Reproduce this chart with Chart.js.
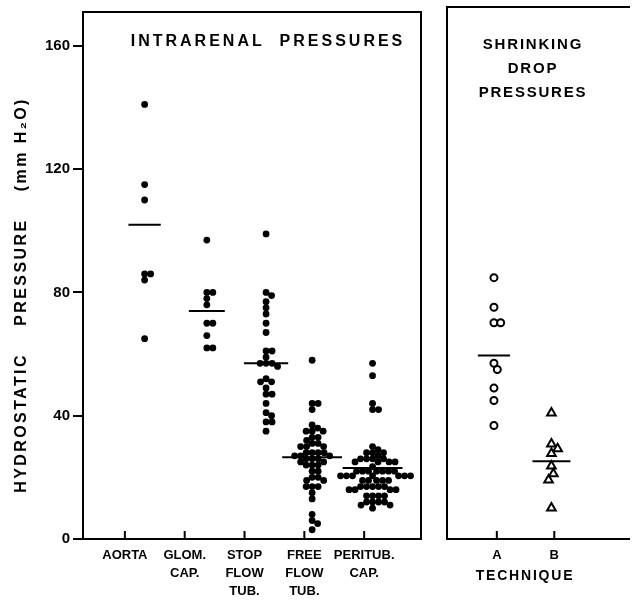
<!DOCTYPE html>
<html>
<head>
<meta charset="utf-8">
<script src="https://cdn.jsdelivr.net/npm/chart.js@4.4.1/dist/chart.umd.min.js"></script>
<style>
  html, body { margin: 0; padding: 0; background: #fff; }
  #wrap { position: relative; width: 636px; height: 605px; overflow: hidden; background: #fff; }
  #left { position: absolute; left: 0; top: 0; width: 440px; height: 605px; }
  #right { position: absolute; left: 440px; top: 0; width: 196px; height: 605px; }
</style>
</head>
<body>
<div id="wrap">
  <div id="left"><canvas id="c1"></canvas></div>
  <div id="right"><canvas id="c2"></canvas></div>
</div>
<script>
// ---------------- DATA ----------------
const yTicks = [0, 40, 80, 120, 160];
const intraCategories = [['AORTA'], ['GLOM.', 'CAP.'], ['STOP', 'FLOW', 'TUB.'], ['FREE', 'FLOW', 'TUB.'], ['PERITUB.', 'CAP.']];
const techCategories = ['A', 'B'];

const aorta = [141, 115, 110, 86, 86, 84, 65];
const glomCap = [97, 80, 80, 78, 76, 70, 70, 66, 62, 62];
const stopFlowTub = [99, 80, 79, 77, 75, 73, 70, 67, 61, 61, 59, 57, 57, 57, 56, 52, 51, 51, 49, 47, 47, 44, 41, 40, 38, 38, 35];
const freeFlowTub = [58, 44, 44, 42, 37, 36, 35, 35, 35, 33, 33, 32, 31, 31, 30, 30, 30, 28, 28, 28, 28, 27, 27, 27,
  26, 26, 26, 25, 25, 24, 24, 24, 22, 22, 20, 20, 19, 19, 17, 17, 17, 15, 13, 8, 6, 5, 3];
const peritubCap = [57, 53, 44, 42, 42, 30, 29, 28, 28, 28, 27, 26, 26, 26, 26, 25, 25, 25, 25, 23.5,
  22, 22, 22, 22, 22, 22, 22, 20.5, 20.5, 20.5, 20.5, 20.5, 20.5, 20.5, 19, 19, 19, 19, 19,
  17, 17, 17, 17, 17, 16, 16, 16, 16, 14, 14, 14, 14, 12, 12, 12, 12, 11, 11, 10];
const intraMeans = [102, 74, 57, 26.5, 23];

const techniqueA = [84, 74.5, 69.5, 69.5, 56.5, 54.5, 48.5, 44.5, 36.5];
const techniqueB = [40.5, 30.5, 29, 27.5, 23.5, 21, 19, 10];
const techMeans = [59, 25];

// ---------------- LAYOUT (not data) ----------------
const FONT = '"Liberation Sans", Arial, sans-serif';
const Y_MAX = 171;
const L_XMIN = 0.3, L_XMAX = 5.95, L_PX = 338, PLOT_PY = 534;
const R_XMIN = 0.133, R_XMAX = 3.3, R_PX = 190;
const intraShift = [0.33, 0.37, 0.36, 0.13, 0.14];
const intraHalf = [0.27, 0.3, 0.37, 0.5, 0.5];
const techShift = [-0.05, -0.05];
const techHalf = [0.28, 0.33];

// simple beeswarm: returns points with x offsets (in data units)
function swarm(values, center, pxPerX, pxPerY, dist) {
  const placed = [];
  const order = values.map((v, i) => i).sort((a, b) => values[b] - values[a]);
  const out = new Array(values.length);
  order.forEach(i => {
    const py = values[i] * pxPerY;
    let chosen = 0;
    for (let k = 0; k < 200; k++) {
      const cands = k === 0 ? [0] : [k * 0.5, -k * 0.5];
      let ok = null;
      for (const off of cands) {
        if (placed.every(p => Math.hypot(p.x - off, p.y - py) >= dist)) { ok = off; break; }
      }
      if (ok !== null) { chosen = ok; break; }
    }
    placed.push({ x: chosen, y: py });
    out[i] = { x: center + chosen / pxPerX, y: values[i] };
  });
  return out;
}

const pxXL = L_PX / (L_XMAX - L_XMIN);
const pxXR = R_PX / (R_XMAX - R_XMIN);
const pxY = PLOT_PY / Y_MAX;

const intraSeries = [aorta, glomCap, stopFlowTub, freeFlowTub, peritubCap];
const leftDatasets = [];
intraSeries.forEach((vals, i) => {
  leftDatasets.push({
    type: 'scatter',
    data: swarm(vals, i + 1 + intraShift[i], pxXL, pxY, 5.9),
    pointRadius: 3.4, pointHoverRadius: 3.4,
    backgroundColor: '#000', borderColor: '#000', borderWidth: 0, pointStyle: 'circle'
  });
});
intraMeans.forEach((m, i) => {
  const c = i + 1 + intraShift[i];
  leftDatasets.push({
    type: 'line', data: [{ x: c - intraHalf[i], y: m }, { x: c + intraHalf[i], y: m }],
    borderColor: '#000', borderWidth: 2, pointRadius: 0, showLine: true, fill: false
  });
});

const rightDatasets = [
  { type: 'scatter', data: swarm(techniqueA, 1 + techShift[0], pxXR, pxY, 7), pointStyle: 'circle',
    pointRadius: 3.5, backgroundColor: '#fff', borderColor: '#000', borderWidth: 2 },
  { type: 'scatter', data: swarm(techniqueB, 2 + techShift[1], pxXR, pxY, 8), pointStyle: 'triangle',
    pointRadius: 5, backgroundColor: '#fff', borderColor: '#000', borderWidth: 2 }
];
techMeans.forEach((m, i) => {
  const c = i + 1 + techShift[i];
  rightDatasets.push({
    type: 'line', data: [{ x: c - techHalf[i], y: m }, { x: c + techHalf[i], y: m }],
    borderColor: '#000', borderWidth: 2, pointRadius: 0, showLine: true, fill: false
  });
});

// ---------------- PLUGINS ----------------
const framePlugin = {
  id: 'frame',
  afterDatasetsDraw(chart, args, opts) {
    const { ctx, chartArea: a } = chart;
    ctx.save();
    ctx.strokeStyle = '#000';
    ctx.lineWidth = 2;
    ctx.lineCap = 'square';
    ctx.beginPath();
    if (opts.left) { ctx.moveTo(a.left, a.top); ctx.lineTo(a.left, a.bottom); }
    if (opts.top) { ctx.moveTo(a.left, a.top); ctx.lineTo(a.right, a.top); }
    if (opts.right) { ctx.moveTo(a.right, a.top); ctx.lineTo(a.right, a.bottom); }
    if (opts.bottom) { ctx.moveTo(a.left, a.bottom); ctx.lineTo(a.right, a.bottom); }
    ctx.stroke();
    const xs = chart.scales.x;
    ctx.beginPath();
    xs.ticks.forEach(t => {
      const px = xs.getPixelForValue(t.value);
      ctx.moveTo(px, a.bottom);
      ctx.lineTo(px, a.bottom - 7);
    });
    ctx.stroke();
    ctx.restore();
  }
};

const textPlugin = {
  id: 'texts',
  afterDraw(chart, args, opts) {
    const ctx = chart.ctx;
    (opts.items || []).forEach(it => {
      ctx.save();
      ctx.fillStyle = '#000';
      ctx.font = 'bold ' + it.size + 'px ' + FONT;
      ctx.letterSpacing = (it.spacing || 0) + 'px';
      ctx.textAlign = 'center';
      ctx.textBaseline = 'middle';
      ctx.translate(it.x, it.y);
      if (it.rotate) ctx.rotate(it.rotate);
      ctx.fillText(it.text, 0, 0);
      ctx.restore();
    });
  }
};

Chart.register(framePlugin, textPlugin);

const commonY = {
  min: 0, max: Y_MAX,
  afterBuildTicks: s => { s.ticks = yTicks.map(v => ({ value: v })); }
};

new Chart(document.getElementById('c1'), {
  type: 'scatter',
  data: { datasets: leftDatasets },
  options: {
    responsive: true, maintainAspectRatio: false, animation: false,
    layout: { padding: { left: 0, right: 19, top: 5, bottom: 0 } },
    plugins: {
      legend: { display: false }, tooltip: { enabled: false },
      frame: { left: true, top: true, right: true, bottom: true },
      texts: { items: [
        { text: 'INTRARENAL  PRESSURES', x: 268, y: 42, size: 16, spacing: 3 },
        { text: 'HYDROSTATIC    PRESSURE    (mm H\u2082O)', x: 22, y: 295, size: 16, spacing: 2.4, rotate: -Math.PI / 2 }
      ] }
    },
    scales: {
      x: {
        type: 'linear', min: L_XMIN, max: L_XMAX,
        afterBuildTicks: s => { s.ticks = intraCategories.map((c, i) => ({ value: i + 1 })); },
        afterFit: s => { s.height = 66; },
        grid: { display: false, drawTicks: false },
        border: { display: false },
        ticks: {
          callback: (v, i) => intraCategories[i],
          color: '#000', font: { family: FONT, size: 13, weight: 'bold', lineHeight: 1.4 },
          padding: 7, maxRotation: 0, autoSkip: false
        }
      },
      y: Object.assign({}, commonY, {
        afterFit: s => { s.width = 83; },
        grid: { drawOnChartArea: false, color: '#000', lineWidth: 2, tickLength: 10 },
        border: { display: false },
        ticks: { color: '#000', font: { family: FONT, size: 15, weight: 'bold' }, padding: 3 }
      })
    }
  }
});

new Chart(document.getElementById('c2'), {
  type: 'scatter',
  data: { datasets: rightDatasets },
  options: {
    responsive: true, maintainAspectRatio: false, animation: false,
    layout: { padding: { left: 6, right: 0, top: 5, bottom: 0 } },
    plugins: {
      legend: { display: false }, tooltip: { enabled: false },
      frame: { left: true, top: true, right: false, bottom: true },
      texts: { items: [
        { text: 'SHRINKING', x: 93, y: 45, size: 15, spacing: 1.8 },
        { text: 'DROP', x: 93, y: 69, size: 15, spacing: 1.8 },
        { text: 'PRESSURES', x: 93, y: 93, size: 15, spacing: 1.8 },
        { text: 'TECHNIQUE', x: 85, y: 576, size: 14, spacing: 1.8 }
      ] }
    },
    scales: {
      x: {
        type: 'linear', min: R_XMIN, max: R_XMAX,
        afterBuildTicks: s => { s.ticks = techCategories.map((c, i) => ({ value: i + 1 })); },
        afterFit: s => { s.height = 66; },
        grid: { display: false, drawTicks: false },
        border: { display: false },
        ticks: {
          callback: (v, i) => techCategories[i],
          color: '#000', font: { family: FONT, size: 13, weight: 'bold', lineHeight: 1.4 },
          padding: 7, maxRotation: 0, autoSkip: false
        }
      },
      y: Object.assign({}, commonY, { display: false })
    }
  }
});
</script>
</body>
</html>
